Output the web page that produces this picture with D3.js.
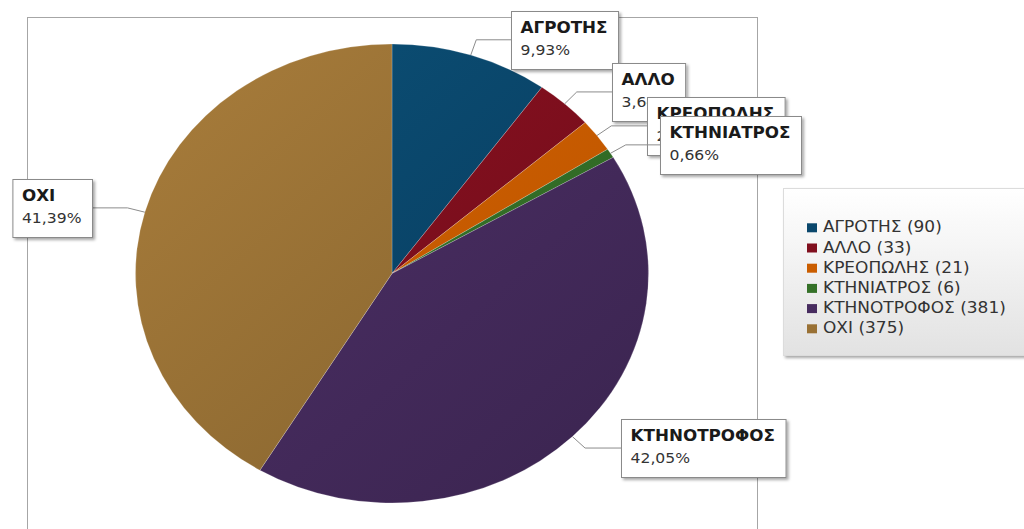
<!DOCTYPE html>
<html>
<head>
<meta charset="utf-8">
<script src="https://cdn.jsdelivr.net/npm/d3@7"></script>
<style>
  html, body { margin: 0; padding: 0; background: #fff; }
  svg { display: block; font-family: "DejaVu Sans", "Open Sans", sans-serif; }
</style>
</head>
<body>
<svg id="chart" width="1024" height="529"></svg>
<script>
// ---- data ----
const categories = ["ΑΓΡΟΤΗΣ", "ΑΛΛΟ", "ΚΡΕΟΠΩΛΗΣ", "ΚΤΗΝΙΑΤΡΟΣ", "ΚΤΗΝΟΤΡΟΦΟΣ", "ΟΧΙ"];
const values = [90, 33, 21, 6, 381, 375];
const lightColors = ["#0c5278", "#8e1222", "#d86600", "#3c7e2e", "#4f3169", "#a97d3b"];
const darkColors  = ["#07375a", "#6c0b18", "#b65000", "#2a5e20", "#3a244f", "#80602d"];
// label box anchors (layout): x of box edge nearest the pie
const labelBoxX = [511, 612, 647, 660, 621, 92];

const svg = d3.select("#chart");
const cx = 392, cy = 273.5, R = 256.5, ry = 229.5;
const sy = ry / R;          // vertical squash of the pie
const sx = R / ry;          // horizontal stretch of the texts
const total = d3.sum(values);

const defs = svg.append("defs");
const sh = defs.append("filter").attr("id", "shadow").attr("x", "-20%").attr("y", "-20%").attr("width", "150%").attr("height", "160%");
sh.append("feDropShadow").attr("dx", 2).attr("dy", 2).attr("stdDeviation", 1.5).attr("flood-color", "#000").attr("flood-opacity", 0.35);

categories.forEach((c, i) => {
  const g = defs.append("linearGradient").attr("id", "grad" + i)
    .attr("gradientUnits", "userSpaceOnUse")
    .attr("x1", -R).attr("y1", -R).attr("x2", R).attr("y2", R);
  g.append("stop").attr("offset", "0%").attr("stop-color", lightColors[i]);
  g.append("stop").attr("offset", "100%").attr("stop-color", darkColors[i]);
});
const lg = defs.append("linearGradient").attr("id", "legendGrad").attr("x1", 0).attr("y1", 0).attr("x2", 0).attr("y2", 1);
lg.append("stop").attr("offset", "0%").attr("stop-color", "#ffffff");
lg.append("stop").attr("offset", "100%").attr("stop-color", "#e2e2e2");

// plot area frame
svg.append("rect").attr("x", 27.5).attr("y", 17.5).attr("width", 730).attr("height", 600)
  .attr("fill", "none").attr("stroke", "#a6a6a6").attr("stroke-width", 1);

// pie
const pie = d3.pie().sort(null).value(d => d.v).startAngle(0).endAngle(2 * Math.PI);
const data = categories.map((c, i) => ({ c, v: values[i], i }));
const arcs = pie(data);
const arc = d3.arc().innerRadius(0).outerRadius(R);

const pg = svg.append("g").attr("transform", `translate(${cx},${cy}) scale(1,${sy})`);
pg.selectAll("path").data(arcs).join("path")
  .attr("d", arc)
  .attr("fill", d => `url(#grad${d.data.i})`)
  .attr("stroke", "rgba(255,255,255,0.35)")
  .attr("stroke-width", 0.6);

function stretchedText(sel, x, y, str) {
  return sel.append("text").attr("transform", `translate(${x},${y}) scale(${sx},1)`).text(str);
}

// callouts
const fmt = v => (v / total * 100).toFixed(2).replace(".", ",") + "%";
const lab = svg.append("g");
arcs.forEach((d, k) => {
  const a = (d.startAngle + d.endAngle) / 2;
  const ex = cx + R * Math.sin(a), ey = cy - ry * Math.cos(a);
  const kx = cx + 1.07 * R * Math.sin(a), ky = cy - 1.07 * ry * Math.cos(a);
  const right = Math.sin(a) >= 0;
  const bx = labelBoxX[k];
  lab.append("polyline")
    .attr("points", `${ex},${ey} ${kx},${ky} ${bx},${ky}`)
    .attr("fill", "none").attr("stroke", "#8c8c8c").attr("stroke-width", 1);
  const g = lab.append("g");
  const rect = g.append("rect").attr("fill", "#fff").attr("stroke", "#8a8a8a").attr("stroke-width", 1)
    .attr("filter", "url(#shadow)");
  const t1 = stretchedText(g, 0, 0, d.data.c).attr("font-weight", "bold").attr("font-size", 15).attr("fill", "#1a1a1a");
  const t2 = stretchedText(g, 0, 0, fmt(d.data.v)).attr("font-size", 14).attr("fill", "#333");
  const w = Math.max(t1.node().getComputedTextLength(), t2.node().getComputedTextLength()) * sx + 20;
  const h = 58;
  const x0 = right ? bx : bx - w;
  const y0 = Math.round(ky - h / 2);
  rect.attr("x", x0 + 0.5).attr("y", y0 + 0.5).attr("width", w).attr("height", h);
  t1.attr("transform", `translate(${x0 + 9.5},${y0 + 22}) scale(${sx},1)`);
  t2.attr("transform", `translate(${x0 + 9.5},${y0 + 43.5}) scale(${sx},1)`);
});

// legend
const legX = 783, legY = 188;
const leg = svg.append("g");
leg.append("rect").attr("x", legX + 0.5).attr("y", legY + 0.5).attr("width", 260).attr("height", 167)
  .attr("fill", "url(#legendGrad)").attr("stroke", "#dcdcdc").attr("filter", "url(#shadow)");
const ly = d3.scalePoint().domain(categories).range([232.3, 333.3]);
categories.forEach((c, i) => {
  const y = ly(c);
  leg.append("rect").attr("x", 807).attr("y", y - 9).attr("width", 10).attr("height", 9)
    .attr("fill", d3.interpolateRgb(lightColors[i], darkColors[i])(0.4));
  stretchedText(leg, 823, y, `${c} (${values[i]})`).attr("font-size", 15.2).attr("fill", "#333");
});
</script>
</body>
</html>
